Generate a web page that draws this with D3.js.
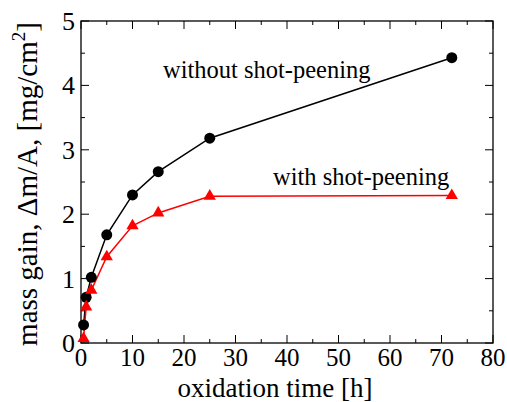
<!DOCTYPE html>
<html>
<head>
<meta charset="utf-8">
<script src="https://d3js.org/d3.v7.min.js"></script>
<style>
  body { margin: 0; background: #fff; }
</style>
</head>
<body>
<div id="chart"></div>
<script>
const width = 507, height = 402;
const margin = {top: 21, right: 14, bottom: 59, left: 81};
const FONT = "'Liberation Serif'";

// oxidation time [h]
const times = [0.5, 1, 2, 5, 10, 15, 25, 72];
// mass gain without shot-peening
const withoutSP = [0.28, 0.71, 1.02, 1.68, 2.30, 2.66, 3.18, 4.43];
// mass gain with shot-peening
const withSP = [0.07, 0.56, 0.82, 1.34, 1.82, 2.02, 2.28, 2.29];

const xTicks = [0, 10, 20, 30, 40, 50, 60, 70, 80];
const yTicks = [0, 1, 2, 3, 4, 5];

const svg = d3.select('#chart').append('svg')
  .attr('width', width).attr('height', height);

const x = d3.scaleLinear().domain([0, 80]).range([margin.left, width - margin.right]);
const y = d3.scaleLinear().domain([0, 5]).range([height - margin.bottom, margin.top]);

const g = svg.append('g');

// frame
g.append('rect')
  .attr('x', x(0)).attr('y', y(5))
  .attr('width', x(80) - x(0)).attr('height', y(0) - y(5))
  .attr('fill', 'none').attr('stroke', '#000').attr('stroke-width', 1.3);

// ticks (inward, all four sides)
const xMinor = d3.range(5, 80, 10);
const yMinor = d3.range(0.5, 5, 1);
function tickLines(vals, len, axis) {
  vals.forEach(v => {
    if (axis === 'x') {
      g.append('line').attr('x1', x(v)).attr('x2', x(v)).attr('y1', y(0)).attr('y2', y(0) - len).attr('stroke', '#000');
      g.append('line').attr('x1', x(v)).attr('x2', x(v)).attr('y1', y(5)).attr('y2', y(5) + len).attr('stroke', '#000');
    } else {
      g.append('line').attr('y1', y(v)).attr('y2', y(v)).attr('x1', x(0)).attr('x2', x(0) + len).attr('stroke', '#000');
      g.append('line').attr('y1', y(v)).attr('y2', y(v)).attr('x1', x(80)).attr('x2', x(80) - len).attr('stroke', '#000');
    }
  });
}
tickLines(xTicks, 8, 'x');
tickLines(xMinor, 4, 'x');
tickLines(yTicks, 8, 'y');
tickLines(yMinor, 4, 'y');

// tick labels
g.selectAll('text.xt').data(xTicks).join('text')
  .attr('x', d => x(d)).attr('y', y(0) + 23)
  .style('font-family', FONT).style('font-size', '25px')
  .attr('text-anchor', 'middle').text(d => d);
g.selectAll('text.yt').data(yTicks).join('text')
  .attr('x', x(0) - 6).attr('y', d => y(d) + 9)
  .style('font-family', FONT).style('font-size', '26px')
  .attr('text-anchor', 'end').text(d => d);

// axis titles
svg.append('text')
  .attr('x', (x(0) + x(80)) / 2 - 12).attr('y', 397)
  .style('font-family', FONT).style('font-size', '27px')
  .attr('text-anchor', 'middle')
  .text('oxidation time [h]');

const yl = svg.append('text')
  .attr('transform', `translate(37,${(y(0) + y(5)) / 2 + 2}) rotate(-90)`)
  .style('font-family', FONT).style('font-size', '29px')
  .attr('text-anchor', 'middle');
yl.append('tspan').text('mass gain, \u0394m/A, [mg/cm');
yl.append('tspan').attr('dy', -12).style('font-size', '19px').text('2');
yl.append('tspan').attr('dy', 12).text(']');

// series
const line = d3.line().x(d => x(d[0])).y(d => y(d[1]));
const blackPts = times.map((t, i) => [t, withoutSP[i]]);
const redPts = times.map((t, i) => [t, withSP[i]]);

g.append('path').datum(blackPts).attr('d', line)
  .attr('fill', 'none').attr('stroke', '#000').attr('stroke-width', 1.5);
g.append('path').datum(redPts).attr('d', line)
  .attr('fill', 'none').attr('stroke', '#f00').attr('stroke-width', 1.5);

g.selectAll('circle.b').data(blackPts).join('circle')
  .attr('cx', d => x(d[0])).attr('cy', d => y(d[1])).attr('r', 5.5).attr('fill', '#000');

const tri = d3.symbol().type(d3.symbolTriangle).size(65);
g.selectAll('path.r').data(redPts).join('path')
  .attr('d', tri)
  .attr('transform', d => `translate(${x(d[0])},${y(d[1])})`)
  .attr('fill', '#f00');

// annotations
svg.append('text').attr('x', 163).attr('y', 78)
  .style('font-family', FONT).style('font-size', '24.5px').text('without shot-peening');
svg.append('text').attr('x', 273).attr('y', 185)
  .style('font-family', FONT).style('font-size', '24.5px').text('with shot-peening');
</script>
</body>
</html>
